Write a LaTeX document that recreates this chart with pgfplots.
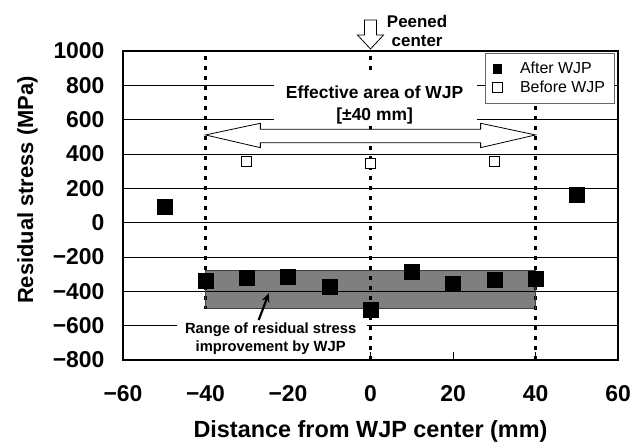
\documentclass[border=0pt]{standalone}
\usepackage{fontspec}
\setmainfont{Liberation Sans}
\usepackage{pgfplots}
\pgfplotsset{compat=1.18}
\usetikzlibrary{arrows.meta}

\begin{document}
\begin{tikzpicture}
\useasboundingbox (0,0) rectangle (633bp,442bp);
\begin{axis}[
  at={(123bp,82bp)}, anchor=south west,
  width=495bp, height=309bp, scale only axis,
  xmin=-60, xmax=60, ymin=-800, ymax=1000,
  xtick={-60,-40,-20,0,20,40,60},
  xticklabels={−60,−40,−20,0,20,40,60},
  ytick={-800,-600,-400,-200,0,200,400,600,800,1000},
  yticklabels={−800,−600,−400,−200,0,200,400,600,800,1000},
  tick pos=left, tick align=inside, major tick length=8bp,
  tick style={black, line width=0.8bp},
  ymajorgrids, major grid style={black, line width=0.9bp},
  axis line style={black, line width=1.6bp},
  ticklabel style={font=\fontsize{23}{25}\selectfont\bfseries},
  xticklabel style={yshift=-22bp},
  yticklabel style={xshift=-15bp},
  xlabel={Distance from WJP center (mm)},
  ylabel={Residual stress (MPa)},
  xlabel style={at={(axis description cs:0.5,-0.2524)}, anchor=base, font=\fontsize{23.5}{26}\selectfont\bfseries},
  ylabel style={at={(axis description cs:-0.1818,0.55)}, anchor=base, font=\fontsize{22}{26}\selectfont\bfseries},
  clip=false,
  legend style={at={(1,1)}, anchor=north east, xshift=-3bp, yshift=-2bp,
    draw=black!60, line width=0.8bp, fill=white, inner xsep=7bp, inner ysep=6.5bp,
    nodes={inner sep=2.5bp}, font=\fontsize{16}{18}\selectfont, row sep=0.5bp},
  legend cell align=left,
]
% dotted boundaries of the effective area
\addplot[black, line width=2.5bp, dash pattern=on 4bp off 6bp, forget plot] coordinates {(-40,-800) (-40,1000)};
\addplot[black, line width=2.5bp, dash pattern=on 4bp off 6bp, forget plot] coordinates {(0,-800) (0,1000)};
\addplot[black, line width=2.5bp, dash pattern=on 4bp off 6bp, forget plot] coordinates {(40,-800) (40,1000)};
% white text backgrounds
\fill[white] (axis cs:-23.5,860) rectangle (axis cs:25.9,565);
\fill[white] (axis cs:-46.8,-505) rectangle (axis cs:-0.8,-792);
% range band
\addplot[fill=black, fill opacity=0.5, draw=black!75, line width=0.8bp, forget plot]
  coordinates {(-40,-500) (40,-500) (40,-277) (-40,-277) (-40,-500)};
% double arrow
\draw[fill=white, line width=0.8bp] (axis cs:-40,511) -- (axis cs:-26.7,579) -- (axis cs:-26.7,544)
  -- (axis cs:26.7,544) -- (axis cs:26.7,579) -- (axis cs:40,511) -- (axis cs:26.7,437)
  -- (axis cs:26.7,466) -- (axis cs:-26.7,466) -- (axis cs:-26.7,437) -- cycle;
\node[align=center, font=\fontsize{17.5}{22}\selectfont\bfseries] at (axis cs:1,685)
  {Effective area of WJP\\{[}±40 mm{]}};
% peened center arrow
\draw[fill=white, line width=0.8bp] (axis cs:-1.45,1180) -- (axis cs:1.45,1180) -- (axis cs:1.45,1093)
  -- (axis cs:3.15,1093) -- (axis cs:0,1012) -- (axis cs:-3.15,1093) -- (axis cs:-1.45,1093) -- cycle;
\node[align=center, font=\fontsize{17}{19}\selectfont\bfseries] at (axis cs:11.3,1116)
  {Peened\\center};
% range text and arrow
\node[align=center, font=\fontsize{14.8}{18}\selectfont\bfseries] at (axis cs:-24.2,-677)
  {Range of residual stress\\improvement by WJP};
\draw[-{Stealth[length=9bp,width=8bp]}, line width=2.2bp] (axis cs:-27.1,-567) -- (axis cs:-24.65,-411);
% data
\addplot[only marks, mark=square*, mark size=7.5bp, mark options={fill=black, draw=black, line width=0.5bp}, forget plot]
  coordinates {(-50,92) (-40,-338) (-30,-318) (-20,-314) (-10,-376) (0,-508) (10,-285) (20,-353) (30,-334) (40,-328) (50,161)};
\addplot[only marks, mark=square*, mark size=5bp, mark options={fill=white, draw=black, line width=0.8bp}, forget plot]
  coordinates {(-30,355) (0,346) (30,359)};
\addlegendimage{only marks, mark=square*, mark size=4.3bp, mark options={fill=black, draw=black}}
\addlegendentry{\hspace{15bp}After WJP}
\addlegendimage{only marks, mark=square*, mark size=5bp, mark options={fill=white, draw=black, line width=0.8bp}}
\addlegendentry{\hspace{15bp}Before WJP}
\end{axis}
\end{tikzpicture}
\end{document}
